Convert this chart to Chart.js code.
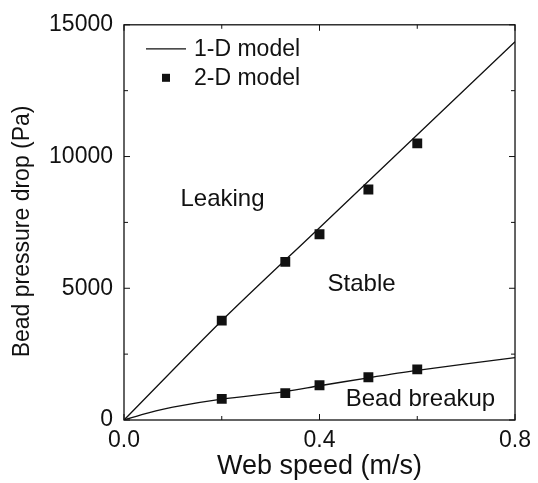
<!DOCTYPE html>
<html>
<head>
    <title>Bead pressure drop vs web speed</title>
    <script src="https://cdn.jsdelivr.net/npm/chart.js"></script>
    <style>
        body { margin: 0; background: #fff; }
    </style>
</head>
<body>
    <canvas id="beadChart" width="538" height="483"></canvas>
    <script>
        // 1-D model curves (upper = leaking limit, lower = breakup limit)
        const upperSpeed = [0, 0.2, 0.4, 0.6, 0.8];
        const upperDrop = [0, 3770, 7300, 10830, 14360];
        const lowerSpeed = [0, 0.05, 0.1, 0.2, 0.33, 0.4, 0.5, 0.6, 0.8];
        const lowerDrop = [0, 270, 490, 790, 1080, 1300, 1600, 1880, 2370];

        // 2-D model points
        const pointSpeed = [0.2, 0.33, 0.4, 0.5, 0.6];
        const pointUpper = [3770, 6000, 7050, 8750, 10500];
        const pointLower = [800, 1020, 1320, 1620, 1920];

        const legendLabels = ['1-D model', '2-D model'];
        const regionLabels = ['Leaking', 'Stable', 'Bead breakup'];
        const yTitle = 'Bead pressure drop (Pa)';

        const FONT = '"Liberation Sans", Arial, sans-serif';
        const INK = '#111';

        const toXY = (xs, ys) => xs.map((x, i) => ({ x: x, y: ys[i] }));

        const lineStyle = {
            showLine: true,
            borderColor: INK,
            borderWidth: 1.3,
            pointRadius: 0,
            fill: false,
            tension: 0.3
        };
        const markStyle = {
            showLine: false,
            pointStyle: 'rect',
            pointRadius: 7,
            backgroundColor: INK,
            borderColor: INK,
            borderWidth: 0
        };

        // frame, inward ticks, y title, legend and region labels
        const decor = {
            id: 'decor',
            afterDraw(chart) {
                const { ctx, chartArea: a, scales } = chart;
                ctx.save();
                ctx.strokeStyle = INK;
                ctx.lineWidth = 1.3;
                ctx.strokeRect(a.left, a.top, a.right - a.left, a.bottom - a.top);

                ctx.lineWidth = 1;
                ctx.beginPath();
                scales.x.ticks.forEach(t => {
                    const px = scales.x.getPixelForValue(t.value);
                    const len = t.label ? 6 : 4;
                    ctx.moveTo(px, a.bottom); ctx.lineTo(px, a.bottom - len);
                    ctx.moveTo(px, a.top); ctx.lineTo(px, a.top + len);
                });
                scales.y.ticks.forEach(t => {
                    const py = scales.y.getPixelForValue(t.value);
                    const len = t.label ? 6 : 4;
                    ctx.moveTo(a.left, py); ctx.lineTo(a.left + len, py);
                    ctx.moveTo(a.right, py); ctx.lineTo(a.right - len, py);
                });
                ctx.stroke();

                ctx.fillStyle = INK;
                ctx.textBaseline = 'middle';

                // y axis title, sits a little below the axis centre in the original
                ctx.save();
                ctx.translate(23, (a.top + a.bottom) / 2 + 9);
                ctx.rotate(-Math.PI / 2);
                ctx.textAlign = 'center';
                ctx.font = '23px ' + FONT;
                ctx.fillText(yTitle, 0, 0);
                ctx.restore();

                // legend
                ctx.font = '23px ' + FONT;
                ctx.textAlign = 'left';
                ctx.lineWidth = 1.3;
                ctx.beginPath();
                ctx.moveTo(a.left + 22, a.top + 24);
                ctx.lineTo(a.left + 62, a.top + 24);
                ctx.stroke();
                ctx.fillText(legendLabels[0], a.left + 70, a.top + 25);
                ctx.fillRect(a.left + 38, a.top + 49, 8, 8);
                ctx.fillText(legendLabels[1], a.left + 70, a.top + 54);

                // region labels placed in data coordinates
                const spots = [[0.2015, 8370], [0.486, 5160], [0.6066, 790]];
                ctx.font = '24px ' + FONT;
                ctx.textAlign = 'center';
                regionLabels.forEach((txt, i) => {
                    ctx.fillText(txt,
                        scales.x.getPixelForValue(spots[i][0]),
                        scales.y.getPixelForValue(spots[i][1]));
                });
                ctx.restore();
            }
        };

        const ctx = document.getElementById('beadChart').getContext('2d');
        new Chart(ctx, {
            type: 'scatter',
            data: {
                datasets: [
                    Object.assign({ label: '1-D upper', data: toXY(upperSpeed, upperDrop) }, lineStyle),
                    Object.assign({ label: '1-D lower', data: toXY(lowerSpeed, lowerDrop) }, lineStyle),
                    Object.assign({ label: '2-D upper', data: toXY(pointSpeed, pointUpper) }, markStyle),
                    Object.assign({ label: '2-D lower', data: toXY(pointSpeed, pointLower) }, markStyle)
                ]
            },
            options: {
                responsive: false,
                animation: false,
                layout: { padding: { top: 20, right: 17, left: 0, bottom: 0 } },
                plugins: { legend: { display: false }, tooltip: { enabled: false } },
                scales: {
                    x: {
                        type: 'linear',
                        min: 0,
                        max: 0.8,
                        grid: { display: false, drawTicks: false },
                        border: { display: false },
                        ticks: {
                            stepSize: 0.2,
                            padding: 7,
                            color: INK,
                            maxRotation: 0,
                            font: { family: FONT, size: 23 },
                            callback: v => (Math.round(v * 10) % 4 === 0 ? v.toFixed(1) : '')
                        },
                        title: {
                            display: true,
                            text: 'Web speed (m/s)',
                            color: INK,
                            font: { family: FONT, size: 27 },
                            padding: { top: 0, bottom: 0 }
                        },
                        afterFit: s => { s.height = 63; }
                    },
                    y: {
                        min: 0,
                        max: 15000,
                        grid: { display: false, drawTicks: false },
                        border: { display: false },
                        ticks: {
                            stepSize: 2500,
                            padding: 11,
                            color: INK,
                            font: { family: FONT, size: 23 },
                            callback: v => (v % 5000 === 0 ? String(v) : '')
                        },
                        afterFit: s => { s.width = 124; }
                    }
                }
            },
            plugins: [decor]
        });
    </script>
</body>
</html>
